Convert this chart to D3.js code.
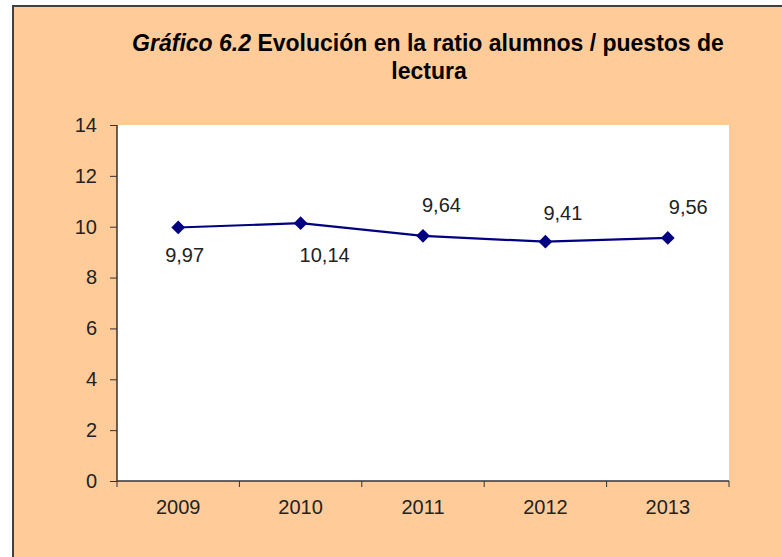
<!DOCTYPE html>
<html>
<head>
<meta charset="utf-8">
<script src="https://cdn.jsdelivr.net/npm/d3@7"></script>
<style>
  body { margin: 0; background: #fff; }
  svg { display: block; font-family: "Liberation Sans", Arial, sans-serif; }
</style>
</head>
<body>
<div id="chart"></div>
<script>
var years = ["2009", "2010", "2011", "2012", "2013"];
var ratio = [9.97, 10.14, 9.64, 9.41, 9.56];
var yTicks = [0, 2, 4, 6, 8, 10, 12, 14];
// nudge of each value label from its point [dx, dy]
var labelNudge = [[-13, 35], [-1, 39], [-1, -24], [-2, -22], [1, -24]];

var width = 782, height = 557;
var plot = {left: 117, right: 729, top: 125, bottom: 481};

var svg = d3.select("#chart").append("svg")
    .attr("width", width)
    .attr("height", height);

// outer frame
svg.append("rect")
    .attr("x", 13).attr("y", 6)
    .attr("width", width).attr("height", height)
    .attr("fill", "#ffcc99")
    .attr("stroke", "#404040")
    .attr("stroke-width", 2);

// title
var title = svg.append("text")
    .attr("text-anchor", "middle")
    .attr("font-size", 23)
    .attr("font-weight", "bold")
    .attr("fill", "#000");
var l1 = title.append("tspan").attr("x", 428).attr("y", 51);
l1.append("tspan").attr("font-style", "italic").text("Gráfico 6.2");
l1.append("tspan").text(" Evolución en la ratio alumnos / puestos de");
title.append("tspan").attr("x", 429).attr("y", 79).text("lectura");

// plot area
svg.append("rect")
    .attr("x", plot.left).attr("y", plot.top)
    .attr("width", plot.right - plot.left)
    .attr("height", plot.bottom - plot.top)
    .attr("fill", "#fff");

var x = d3.scaleBand().domain(years).range([plot.left, plot.right]);
var y = d3.scaleLinear().domain([0, 14]).range([plot.bottom, plot.top]);

var yAxis = svg.append("g")
    .attr("transform", "translate(" + plot.left + ",0)")
    .call(d3.axisLeft(y).tickValues(yTicks).tickSize(7).tickPadding(13));

var xAxis = svg.append("g")
    .attr("transform", "translate(0," + plot.bottom + ")")
    .call(d3.axisBottom(x).tickSize(0).tickPadding(19));

// category boundary ticks
var bounds = years.map(function(d) { return x(d); }).concat([plot.right]);
xAxis.selectAll("line.bound")
    .data(bounds)
    .enter().append("line")
    .attr("class", "bound")
    .attr("x1", function(d) { return d; })
    .attr("x2", function(d) { return d; })
    .attr("y1", 0).attr("y2", 6)
    .attr("stroke", "#333");

[yAxis, xAxis].forEach(function(g) {
    g.select(".domain").attr("stroke", "#333").attr("stroke-width", 1.5);
    g.selectAll(".tick line").attr("stroke", "#333");
    g.selectAll("text")
        .attr("font-family", "Liberation Sans, Arial, sans-serif")
        .attr("font-size", 20)
        .attr("fill", "#222");
});
xAxis.select(".domain").attr("d", "M" + plot.left + ",0H" + plot.right);
yAxis.select(".domain").attr("d", "M0," + plot.bottom + "V" + plot.top);

var cx = function(d, i) { return x(years[i]) + x.bandwidth() / 2; };

var line = d3.line()
    .x(cx)
    .y(function(d) { return y(d); });

svg.append("path")
    .datum(ratio)
    .attr("d", line)
    .attr("fill", "none")
    .attr("stroke", "#000080")
    .attr("stroke-width", 2.2);

svg.selectAll("path.marker")
    .data(ratio)
    .enter().append("path")
    .attr("class", "marker")
    .attr("d", d3.symbol().type(d3.symbolDiamond2).size(120))
    .attr("transform", function(d, i) { return "translate(" + cx(d, i) + "," + y(d) + ")"; })
    .attr("fill", "#000080");

svg.selectAll("text.lbl")
    .data(ratio)
    .enter().append("text")
    .attr("class", "lbl")
    .attr("x", function(d, i) { return cx(d, i) + labelNudge[i][0]; })
    .attr("y", function(d, i) { return y(d) + labelNudge[i][1]; })
    .attr("text-anchor", "start")
    .attr("font-size", 20)
    .attr("fill", "#222")
    .text(function(d) { return d3.format(".2f")(d).replace(".", ","); });
</script>
</body>
</html>
